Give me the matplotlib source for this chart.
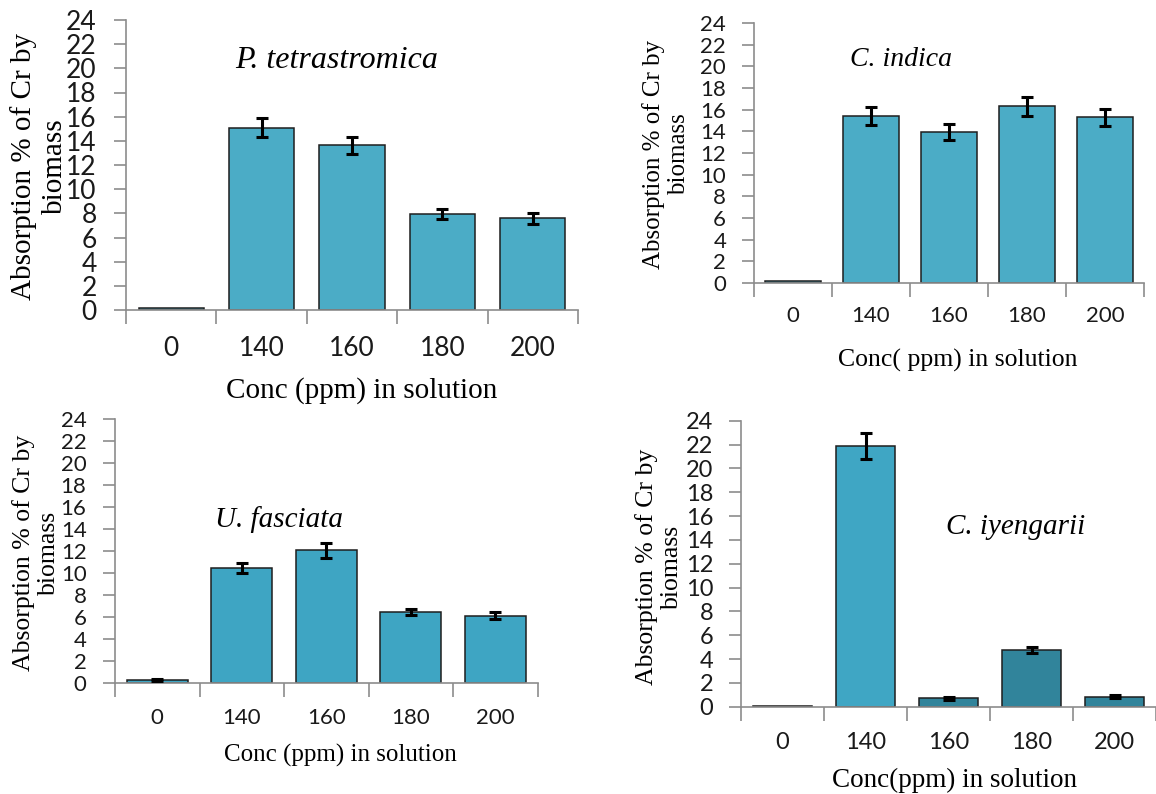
import matplotlib.pyplot as plt
import numpy as np

plt.rcParams['font.family'] = ['Lato', 'DejaVu Sans']

# Cr concentration categories (ppm)
conc = ['0', '140', '160', '180', '200']

# Absorption % of Cr by biomass, mean and error per species
p_tetra = [0.15, 15.1, 13.65, 7.95, 7.6]
p_tetra_err = [0, 0.75, 0.7, 0.45, 0.45]
c_indica = [0.2, 15.4, 13.95, 16.3, 15.3]
c_indica_err = [0, 0.8, 0.75, 0.85, 0.8]
u_fasciata = [0.25, 10.45, 12.05, 6.45, 6.1]
u_fasciata_err = [0.1, 0.5, 0.65, 0.3, 0.3]
c_iyengarii = [0.1, 21.9, 0.7, 4.75, 0.85]
c_iyengarii_err = [0, 1.1, 0.1, 0.25, 0.1]

W, H = 1156, 794
fig = plt.figure(figsize=(W / 100, H / 100), dpi=100)

SERIF = 'Liberation Serif'
GREY = '#8c8c8c'
YLAB = 'Absorption % of Cr by\nbiomass'


def fx(x):
    return x / W


def fy(y):
    return 1 - y / H


def panel(vals, errs, colors, box, tick_fs, xpad, ypad,
          title, title_xy, title_fs, ylab_xy, ylab_fs, xlab, xlab_xy, xlab_fs):
    # box = (left px, right clip px, top px (=24), bottom px (=0), category step px)
    x0, xr, y24, y0, step = box
    ax = fig.add_axes([fx(x0), fy(y0), (xr - x0) / W, (y0 - y24) / H])
    x = np.arange(len(conc))
    ax.bar(x, vals, width=0.72, color=colors, edgecolor='#1e1e1e',
           linewidth=1.1, zorder=2)
    ok = [i for i, e in enumerate(errs) if e > 0]
    ax.errorbar(x[ok], np.array(vals)[ok], yerr=np.array(errs)[ok], fmt='none',
                ecolor='black', elinewidth=2.2, capsize=4.5, capthick=2.2, zorder=3)
    ax.set_ylim(0, 24)
    ax.set_xlim(-0.5, -0.5 + (xr - x0) / step)
    ax.set_yticks(range(0, 25, 2))
    ax.set_xticks(np.arange(-0.5, 5, 1))
    ax.set_xticklabels([])
    ax.set_xticks(x, minor=True)
    ax.set_xticklabels(conc, minor=True)
    for s in ['top', 'right']:
        ax.spines[s].set_visible(False)
    for s in ['left', 'bottom']:
        ax.spines[s].set_color(GREY)
        ax.spines[s].set_linewidth(1.2)
    ax.tick_params(axis='y', length=9, width=1.2, color=GREY, pad=ypad,
                   labelsize=tick_fs, labelcolor='#1a1a1a')
    ax.tick_params(axis='x', which='major', length=10, width=1.2, color=GREY)
    ax.tick_params(axis='x', which='minor', length=0, pad=xpad,
                   labelsize=tick_fs, labelcolor='#1a1a1a')
    ax.set_facecolor('none')

    fig.text(fx(title_xy[0]), fy(title_xy[1]), title, family=SERIF, style='italic',
             fontsize=title_fs, ha='center', va='center')
    fig.text(fx(ylab_xy[0]), fy(ylab_xy[1]), YLAB, family=SERIF, fontsize=ylab_fs,
             rotation=90, ha='center', va='center', multialignment='center',
             linespacing=1.2)
    fig.text(fx(xlab_xy[0]), fy(xlab_xy[1]), xlab, family=SERIF, fontsize=xlab_fs,
             ha='center', va='center')
    return ax


panel(p_tetra, p_tetra_err, '#4bacc6', (126, 578, 20, 310, 94.5), 19, 19, 12,
      'P. tetrastromica', (337, 61), 23, (39, 166), 21,
      'Conc (ppm) in solution', (362, 391), 21)

panel(c_indica, c_indica_err, '#4bacc6', (754, 1144, 23, 283, 82.3), 16, 16.5, 11,
      'C. indica', (901, 59), 20, (666, 154), 18,
      'Conc( ppm) in solution', (958, 360), 18.5)

panel(u_fasciata, u_fasciata_err, '#3ea5c3', (115, 537.7, 419.3, 682.7, 89.4), 16, 18, 11.5,
      'U. fasciata', (279, 520), 21, (36, 553), 18.5,
      'Conc (ppm) in solution', (340, 755), 18)

panel(c_iyengarii, c_iyengarii_err,
      ['#31849b', '#3fa6c4', '#31849b', '#31849b', '#31849b'],
      (741, 1156, 420.7, 706.7, 86.5), 17, 18.5, 11,
      'C. iyengarii', (1016, 527), 21, (659, 567), 18.5,
      'Conc(ppm) in solution', (955, 780), 19.5)

fig.savefig('out.png', dpi=100)
